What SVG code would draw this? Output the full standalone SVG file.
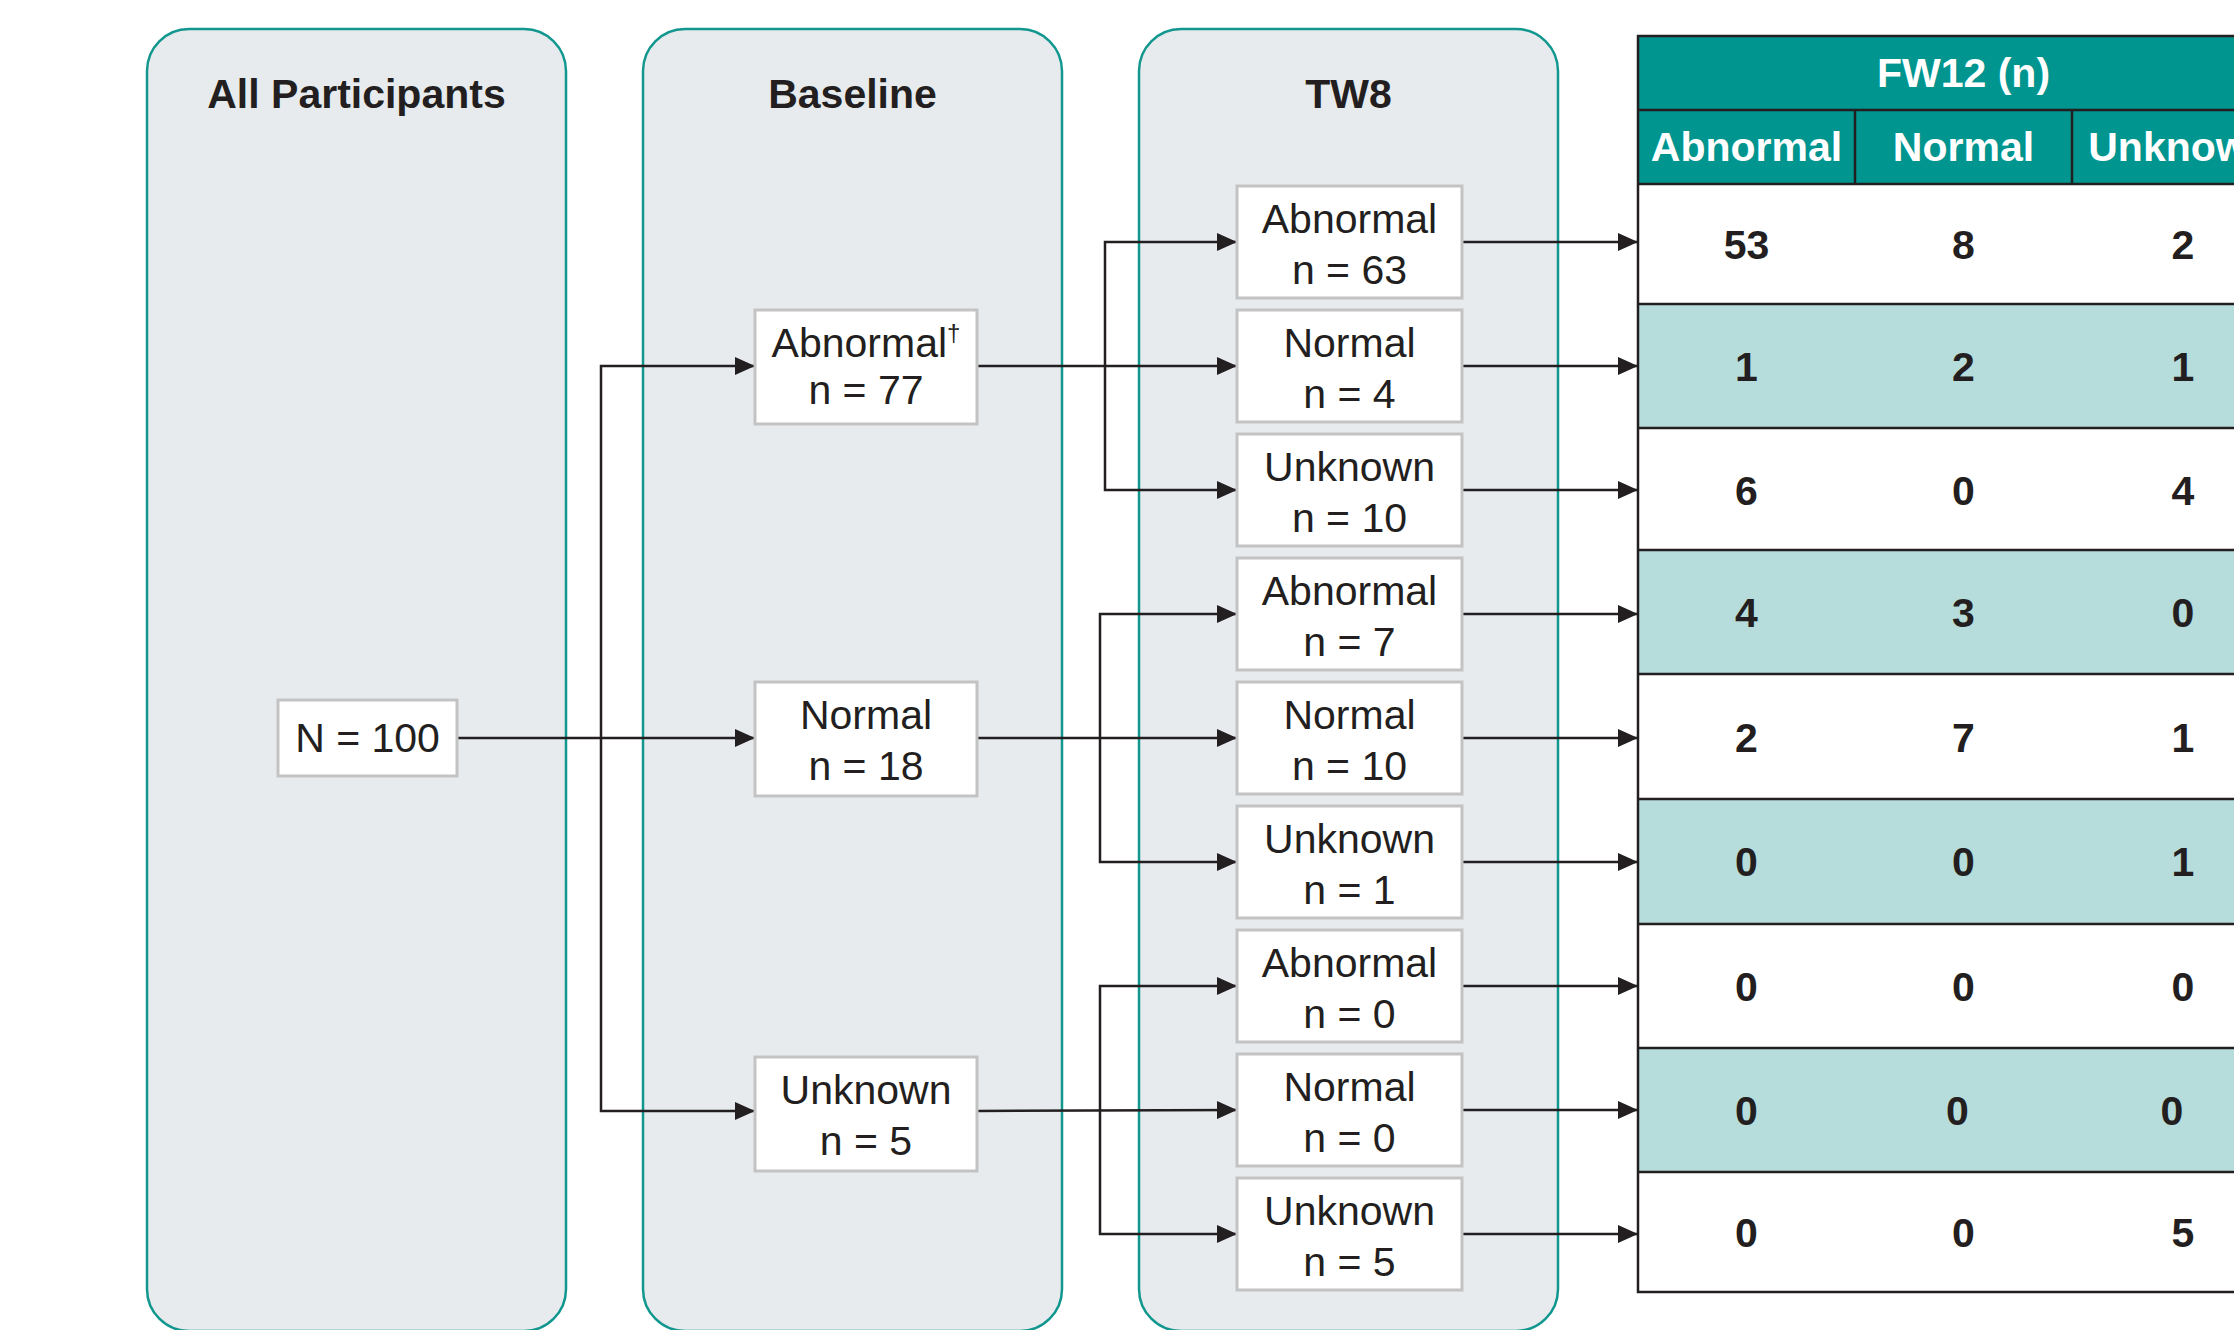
<svg xmlns="http://www.w3.org/2000/svg" width="2234" height="1330" viewBox="0 0 2234 1330">
<defs>
<style>
.panel{fill:#e7ebee;stroke:#12978f;stroke-width:2.5}
.ptitle{font-family:"Liberation Sans",Arial,sans-serif;font-weight:bold;font-size:41px;fill:#231f20;text-anchor:middle}
.box{fill:#ffffff;stroke:#c3c3c3;stroke-width:3}
.bt{font-family:"Liberation Sans",Arial,sans-serif;font-size:41px;fill:#231f20;text-anchor:middle}
.conn{fill:none;stroke:#231f20;stroke-width:2.5}
.arr{fill:none;stroke:#231f20;stroke-width:2.5;marker-end:url(#ah)}
.th{font-family:"Liberation Sans",Arial,sans-serif;font-weight:bold;font-size:41px;fill:#ffffff;text-anchor:middle}
.td{font-family:"Liberation Sans",Arial,sans-serif;font-weight:bold;font-size:41px;fill:#231f20;text-anchor:middle}
.tl{stroke:#231f20;stroke-width:2.5;fill:none}
.rw{fill:#ffffff}
.rt{fill:#b6dcdb}
</style>
<marker id="ah" markerUnits="userSpaceOnUse" markerWidth="20" markerHeight="18" refX="20" refY="9" orient="auto">
<path d="M0,0 L20,9 L0,18 z" fill="#231f20"/>
</marker>
</defs>
<rect width="2234" height="1330" fill="#ffffff"/>

<g id="panel-all">
<rect class="panel" x="147" y="29" width="419" height="1302" rx="42" ry="42"/>
<text class="ptitle" x="356.5" y="108">All Participants</text>
</g>
<g id="panel-baseline">
<rect class="panel" x="643" y="29" width="419" height="1302" rx="42" ry="42"/>
<text class="ptitle" x="852.5" y="108">Baseline</text>
</g>
<g id="panel-tw8">
<rect class="panel" x="1139" y="29" width="419" height="1302" rx="42" ry="42"/>
<text class="ptitle" x="1348.5" y="108">TW8</text>
</g>

<g id="connectors">
<line class="arr" x1="457" y1="738" x2="755" y2="738"/>
<polyline class="arr" points="601,738 601,366 755,366"/>
<polyline class="arr" points="601,738 601,1111 755,1111"/>

<line class="arr" x1="977" y1="366" x2="1237" y2="366"/>
<polyline class="arr" points="1105,366 1105,242 1237,242"/>
<polyline class="arr" points="1105,366 1105,490 1237,490"/>

<line class="arr" x1="977" y1="738" x2="1237" y2="738"/>
<polyline class="arr" points="1100,738 1100,614 1237,614"/>
<polyline class="arr" points="1100,738 1100,862 1237,862"/>

<line class="arr" x1="977" y1="1111" x2="1237" y2="1110"/>
<polyline class="arr" points="1100,1110 1100,986 1237,986"/>
<polyline class="arr" points="1100,1110 1100,1234 1237,1234"/>

<line class="arr" x1="1462" y1="242" x2="1638" y2="242"/>
<line class="arr" x1="1462" y1="366" x2="1638" y2="366"/>
<line class="arr" x1="1462" y1="490" x2="1638" y2="490"/>
<line class="arr" x1="1462" y1="614" x2="1638" y2="614"/>
<line class="arr" x1="1462" y1="738" x2="1638" y2="738"/>
<line class="arr" x1="1462" y1="862" x2="1638" y2="862"/>
<line class="arr" x1="1462" y1="986" x2="1638" y2="986"/>
<line class="arr" x1="1462" y1="1110" x2="1638" y2="1110"/>
<line class="arr" x1="1462" y1="1234" x2="1638" y2="1234"/>
</g>

<g id="node-all">
<rect class="box" x="278" y="700" width="179" height="76"/>
<text class="bt" x="367.5" y="752">N = 100</text>
</g>

<g id="node-bl-abnormal">
<rect class="box" x="755" y="310" width="222" height="114"/>
<text class="bt" x="866" y="357">Abnormal<tspan font-size="24" dy="-16">†</tspan></text>
<text class="bt" x="866" y="404">n = 77</text>
</g>
<g id="node-bl-normal">
<rect class="box" x="755" y="682" width="222" height="114"/>
<text class="bt" x="866" y="729">Normal</text>
<text class="bt" x="866" y="780">n = 18</text>
</g>
<g id="node-bl-unknown">
<rect class="box" x="755" y="1057" width="222" height="114"/>
<text class="bt" x="866" y="1104">Unknown</text>
<text class="bt" x="866" y="1155">n = 5</text>
</g>

<g id="node-tw8-1"><rect class="box" x="1237" y="186" width="225" height="112"/><text class="bt" x="1349.5" y="233">Abnormal</text><text class="bt" x="1349.5" y="284">n = 63</text></g>
<g id="node-tw8-2"><rect class="box" x="1237" y="310" width="225" height="112"/><text class="bt" x="1349.5" y="357">Normal</text><text class="bt" x="1349.5" y="408">n = 4</text></g>
<g id="node-tw8-3"><rect class="box" x="1237" y="434" width="225" height="112"/><text class="bt" x="1349.5" y="481">Unknown</text><text class="bt" x="1349.5" y="532">n = 10</text></g>
<g id="node-tw8-4"><rect class="box" x="1237" y="558" width="225" height="112"/><text class="bt" x="1349.5" y="605">Abnormal</text><text class="bt" x="1349.5" y="656">n = 7</text></g>
<g id="node-tw8-5"><rect class="box" x="1237" y="682" width="225" height="112"/><text class="bt" x="1349.5" y="729">Normal</text><text class="bt" x="1349.5" y="780">n = 10</text></g>
<g id="node-tw8-6"><rect class="box" x="1237" y="806" width="225" height="112"/><text class="bt" x="1349.5" y="853">Unknown</text><text class="bt" x="1349.5" y="904">n = 1</text></g>
<g id="node-tw8-7"><rect class="box" x="1237" y="930" width="225" height="112"/><text class="bt" x="1349.5" y="977">Abnormal</text><text class="bt" x="1349.5" y="1028">n = 0</text></g>
<g id="node-tw8-8"><rect class="box" x="1237" y="1054" width="225" height="112"/><text class="bt" x="1349.5" y="1101">Normal</text><text class="bt" x="1349.5" y="1152">n = 0</text></g>
<g id="node-tw8-9"><rect class="box" x="1237" y="1178" width="225" height="112"/><text class="bt" x="1349.5" y="1225">Unknown</text><text class="bt" x="1349.5" y="1276">n = 5</text></g>

<g id="table-fw12">
<rect x="1638" y="36" width="660" height="148" fill="#00958f"/>
<rect class="rw" x="1638" y="184" width="660" height="120"/>
<rect class="rt" x="1638" y="304" width="660" height="124"/>
<rect class="rw" x="1638" y="428" width="660" height="122"/>
<rect class="rt" x="1638" y="550" width="660" height="124"/>
<rect class="rw" x="1638" y="674" width="660" height="125"/>
<rect class="rt" x="1638" y="799" width="660" height="125"/>
<rect class="rw" x="1638" y="924" width="660" height="124"/>
<rect class="rt" x="1638" y="1048" width="660" height="124"/>
<rect class="rw" x="1638" y="1172" width="660" height="120"/>
<path class="tl" d="M2300,36 H1638 V1292 H2300 M1638,110 H2300 M1638,184 H2300 M1638,304 H2300 M1638,428 H2300 M1638,550 H2300 M1638,674 H2300 M1638,799 H2300 M1638,924 H2300 M1638,1048 H2300 M1638,1172 H2300 M1855,110 V184 M2072,110 V184"/>
<text class="th" x="1963.5" y="87">FW12 (n)</text>
<text class="th" x="1746.5" y="161">Abnormal</text>
<text class="th" x="1963.5" y="161">Normal</text>
<text class="th" x="2180.5" y="161">Unknown</text>
<g class="td">
<text x="1746.5" y="259">53</text><text x="1963.5" y="259">8</text><text x="2183" y="259">2</text>
<text x="1746.5" y="381">1</text><text x="1963.5" y="381">2</text><text x="2183" y="381">1</text>
<text x="1746.5" y="505">6</text><text x="1963.5" y="505">0</text><text x="2183" y="505">4</text>
<text x="1746.5" y="627">4</text><text x="1963.5" y="627">3</text><text x="2183" y="627">0</text>
<text x="1746.5" y="752">2</text><text x="1963.5" y="752">7</text><text x="2183" y="752">1</text>
<text x="1746.5" y="876">0</text><text x="1963.5" y="876">0</text><text x="2183" y="876">1</text>
<text x="1746.5" y="1001">0</text><text x="1963.5" y="1001">0</text><text x="2183" y="1001">0</text>
<text x="1746.5" y="1125">0</text><text x="1957.5" y="1125">0</text><text x="2172" y="1125">0</text>
<text x="1746.5" y="1247">0</text><text x="1963.5" y="1247">0</text><text x="2183" y="1247">5</text>
</g>
</g>
</svg>
